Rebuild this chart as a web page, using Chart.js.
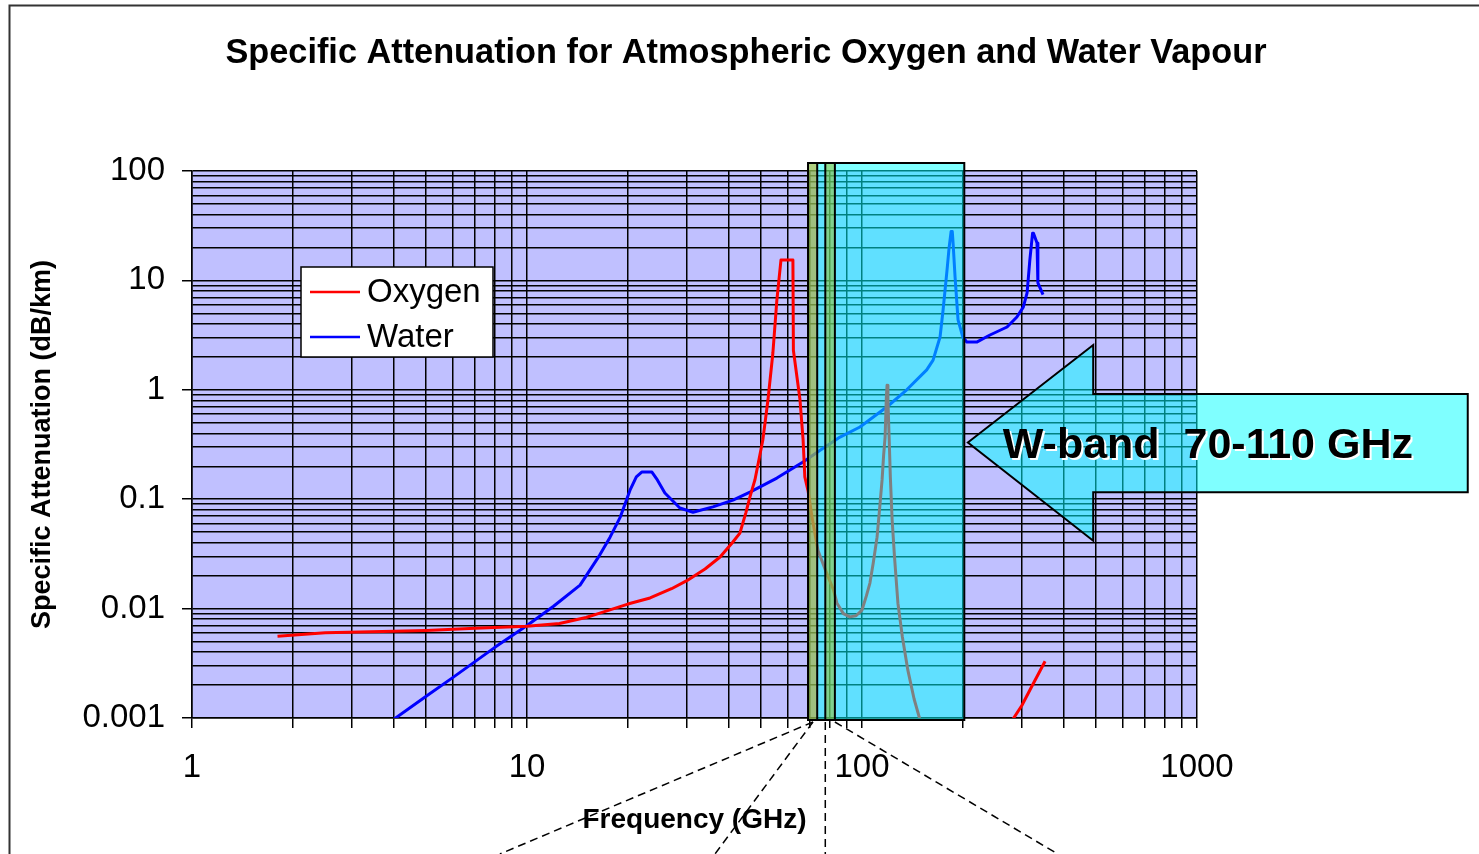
<!DOCTYPE html>
<html lang="en">
<head>
  <meta charset="utf-8" />
  <title>Specific Attenuation for Atmospheric Oxygen and Water Vapour</title>
  <script src="https://cdn.jsdelivr.net/npm/chart.js"></script>
  <style>
    * { box-sizing: border-box; margin: 0; padding: 0; }
    body { background: #fff; width: 1479px; height: 854px; overflow: hidden; }
    #wrap { position: relative; width: 1479px; height: 854px; }
  </style>
</head>
<body>
  <div id="wrap"><canvas id="chart" width="1479" height="854"></canvas></div>

  <script>
    // values (GHz, dB/km)
    const oxygenFreq = [1.8, 2.5, 4, 5, 7, 10, 12.5, 15, 16.5, 20, 23.3, 27, 30, 34, 37.7, 41, 43.2, 45, 46.3, 47.9,
      50.6, 52.4, 54.2, 55.7, 57.3, 62.2, 62.4, 65.3, 66.7, 67.5, 69, 70.9, 73.9, 78, 82.2, 84.2, 88, 92, 96, 100,
      103, 105.6, 108, 110.9, 113, 114.8, 116, 117.2, 118.2, 118.8, 119.5, 120.5, 121.5, 123, 125, 128, 132, 137,
      143, 149, 160, 200, 250, 280, 300, 320, 352];
    const oxygenAtt = [0.0056, 0.0060, 0.0062, 0.0063, 0.0066, 0.0069, 0.0073, 0.0083, 0.0091, 0.011, 0.0125, 0.0152,
      0.018, 0.023, 0.0296, 0.04, 0.049, 0.075, 0.105, 0.15,
      0.35, 0.81, 2.17, 6.6, 15.4, 15.4, 2.3, 0.81, 0.35, 0.16, 0.12, 0.069, 0.034, 0.022, 0.0148, 0.0112, 0.009,
      0.0084, 0.0086, 0.0097,
      0.013, 0.0171, 0.026, 0.045, 0.085, 0.15, 0.25, 0.37, 0.85, 1.1, 0.8, 0.37, 0.16, 0.065, 0.03, 0.0112, 0.0055,
      0.00275, 0.0015, 0.00096, 0.0005, 0.0003, 0.0005, 0.00094, 0.0013, 0.0019, 0.0033];

    const waterFreq = [3.9, 5, 6, 8, 10, 12, 14.4, 16.5, 17.7, 19, 20.3, 21.2, 22, 23.6, 24.5, 25.8, 28.6, 31.3, 35.9,
      41.2, 46.3, 55.7, 66.7, 75, 86, 98.6, 118.8, 136, 156, 163, 171, 174.6, 179.4, 182, 184.5, 186, 187, 189.6, 193.5,
      200, 205.6, 220, 241, 271, 290, 303, 311, 317, 323, 325, 333, 335, 347];
    const waterAtt = [0.00092, 0.00158, 0.00234, 0.0044, 0.0070, 0.0105, 0.0164, 0.031, 0.045, 0.069, 0.121, 0.16,
      0.177, 0.177, 0.15, 0.114, 0.083, 0.076, 0.085,
      0.098, 0.116, 0.156, 0.219, 0.28, 0.37, 0.457, 0.70, 1.0, 1.52, 1.87, 3.04, 5.36, 12.4, 20, 28, 28, 22, 10.7, 4.35,
      3.04, 2.73, 2.73, 3.17, 3.75, 4.63, 5.7, 7.7, 15.4, 27, 27, 22, 9.5, 7.4];

    const xTickLabels = ['1', '10', '100', '1000'];
    const yTickLabels = ['0.001', '0.01', '0.1', '1', '10', '100'];
    const seriesNames = ['Oxygen', 'Water'];

    // band marking (GHz) and the callout arrow (GHz / dB/km)
    const bandFrom = 69, bandTo = 202;
    const strips = [[69, 73.5, 'rgba(224,160,0,0.5)'], [77.7, 83, 'rgba(160,192,32,0.5)']];
    const dividers = [73.5, 77.7, 83];
    const arrowX = [207, 490, 6430];                 // tip, neck, tail
    const arrowY = [0.33, 2.57, 0.916, 0.116, 0.0417]; // tip, head top, body top, body bottom, head bottom
    const calloutFrom = [71.4, 71.4, 77.7, 83];
    const calloutTo = [8.3, 36.4, 77.7, 384];

    const FONT = "Arial, 'Liberation Sans', sans-serif";

    function decades(lo, hi) {
      const out = [];
      for (let e = lo; e < hi; e++) {
        for (let m = 1; m < 10; m++) out.push(+(m * Math.pow(10, e)).toPrecision(6));
      }
      out.push(Math.pow(10, hi));
      return out;
    }
    const xGrid = decades(0, 3);
    const yGrid = decades(-3, 2);

    function decadeIndex(v) {
      const l = Math.log10(v);
      const r = Math.round(l);
      return Math.abs(l - r) < 1e-6 ? r : null;
    }

    const decor = {
      id: 'decor',
      beforeDraw(chart) {
        const { ctx, chartArea: a } = chart;
        ctx.save();
        ctx.fillStyle = '#c0c0ff';
        ctx.fillRect(a.left, a.top, a.right - a.left, a.bottom - a.top);
        ctx.restore();
      },
      afterDatasetsDraw(chart) {
        const { ctx, chartArea: a } = chart;
        const xs = chart.scales.x, ys = chart.scales.y;
        const px = v => xs.getPixelForValue(v);
        const py = v => ys.getPixelForValue(v);
        const top = a.top - 8, bot = a.bottom + 2;

        ctx.save();
        // band overlay
        ctx.fillStyle = 'rgba(0,255,255,0.5)';
        ctx.fillRect(px(bandFrom), top, px(bandTo) - px(bandFrom), bot - top);
        strips.forEach(([f, t, c]) => {
          ctx.fillStyle = c;
          ctx.fillRect(px(f), top, px(t) - px(f), bot - top);
        });
        ctx.strokeStyle = '#000';
        ctx.lineWidth = 2;
        dividers.forEach(f => {
          ctx.beginPath();
          ctx.moveTo(px(f), top);
          ctx.lineTo(px(f), bot);
          ctx.stroke();
        });
        ctx.strokeRect(px(bandFrom), top, px(bandTo) - px(bandFrom), bot - top);

        // callout lines
        ctx.setLineDash([8, 5]);
        ctx.lineWidth = 1.5;
        calloutFrom.forEach((f, i) => {
          ctx.beginPath();
          ctx.moveTo(px(f), a.bottom + 4);
          ctx.lineTo(px(calloutTo[i]), chart.height);
          ctx.stroke();
        });
        ctx.setLineDash([]);

        // arrow
        const [tx, nx, ex] = arrowX.map(px);
        const [ty, hTop, bTop, bBot, hBot] = arrowY.map(py);
        ctx.beginPath();
        ctx.moveTo(tx, ty);
        ctx.lineTo(nx, hTop);
        ctx.lineTo(nx, bTop);
        ctx.lineTo(ex, bTop);
        ctx.lineTo(ex, bBot);
        ctx.lineTo(nx, bBot);
        ctx.lineTo(nx, hBot);
        ctx.closePath();
        ctx.fillStyle = 'rgba(0,255,255,0.5)';
        ctx.fill();
        ctx.lineWidth = 2;
        ctx.stroke();

        ctx.font = 'bold 43px ' + FONT;
        ctx.textAlign = 'left';
        ctx.textBaseline = 'middle';
        ctx.fillStyle = '#fff';
        ctx.fillText('W-band  70-110 GHz', tx + 37, ty + 6);
        ctx.fillStyle = '#000';
        ctx.fillText('W-band  70-110 GHz', tx + 35, ty + 4);

        // legend
        const lx = a.left + 109, ly = a.top + 96;
        ctx.fillStyle = '#fff';
        ctx.fillRect(lx, ly, 192, 90);
        ctx.lineWidth = 1.5;
        ctx.strokeStyle = '#000';
        ctx.strokeRect(lx, ly, 192, 90);
        ctx.font = '33px ' + FONT;
        chart.data.datasets.forEach((ds, i) => {
          const y = ly + 25 + i * 45;
          ctx.strokeStyle = ds.borderColor;
          ctx.lineWidth = 2.5;
          ctx.beginPath();
          ctx.moveTo(lx + 9, y);
          ctx.lineTo(lx + 59, y);
          ctx.stroke();
          ctx.fillStyle = '#000';
          ctx.fillText(ds.label, lx + 66, y + 1);
        });
        ctx.restore();
      },
      afterDraw(chart) {
        const { ctx } = chart;
        ctx.save();
        ctx.font = 'bold 34.3px ' + FONT;
        ctx.textAlign = 'center';
        ctx.textBaseline = 'middle';
        ctx.fillStyle = '#000';
        ctx.fillText('Specific Attenuation for Atmospheric Oxygen and Water Vapour', 746, 54);
        ctx.strokeStyle = '#333';
        ctx.lineWidth = 2;
        ctx.strokeRect(9.5, 5.5, chart.width, chart.height - 3);
        ctx.restore();
      }
    };

    Chart.defaults.font.family = FONT;
    Chart.defaults.color = '#000';

    new Chart('chart', {
      type: 'line',
      data: {
        datasets: [
          {
            label: seriesNames[0],
            data: oxygenFreq.map((f, i) => ({ x: f, y: oxygenAtt[i] })),
            borderColor: '#ff0000',
            borderWidth: 3,
            borderJoinStyle: 'round',
            pointRadius: 0,
            tension: 0,
            fill: false
          },
          {
            label: seriesNames[1],
            data: waterFreq.map((f, i) => ({ x: f, y: waterAtt[i] })),
            borderColor: '#0000ff',
            borderWidth: 3,
            borderJoinStyle: 'round',
            pointRadius: 0,
            tension: 0,
            fill: false
          }
        ]
      },
      options: {
        responsive: false,
        animation: false,
        devicePixelRatio: 1,
        layout: { padding: { top: 171, right: 282, bottom: 0, left: 0 } },
        plugins: {
          legend: { display: false },
          title: { display: false },
          tooltip: { enabled: false }
        },
        scales: {
          x: {
            type: 'logarithmic',
            min: 1,
            max: 1000,
            afterFit: s => { s.height = 136; },
            afterBuildTicks: s => { s.ticks = xGrid.map(v => ({ value: v })); },
            grid: { color: '#000', lineWidth: 1.5, tickLength: 10, tickColor: '#000' },
            border: { color: '#000', width: 1.5 },
            ticks: {
              autoSkip: false,
              maxRotation: 0,
              padding: 20,
              font: { size: 33 },
              callback: v => {
                const d = decadeIndex(v);
                return d === null ? '' : xTickLabels[d];
              }
            },
            title: {
              display: true,
              text: 'Frequency (GHz)',
              font: { size: 28, weight: 'bold' },
              padding: { top: 0, bottom: 17 }
            }
          },
          y: {
            type: 'logarithmic',
            min: 0.001,
            max: 100,
            afterFit: s => { s.width = 192; },
            afterBuildTicks: s => { s.ticks = yGrid.map(v => ({ value: v })); },
            grid: {
              color: '#000',
              lineWidth: 1.5,
              tickLength: 10,
              tickColor: c => (c.tick && decadeIndex(c.tick.value) !== null) ? '#000' : 'rgba(0,0,0,0)'
            },
            border: { color: '#000', width: 1.5 },
            ticks: {
              autoSkip: false,
              padding: 17,
              font: { size: 33 },
              callback: v => {
                const d = decadeIndex(v);
                return d === null ? '' : yTickLabels[d + 3];
              }
            },
            title: {
              display: true,
              text: 'Specific Attenuation (dB/km)',
              font: { size: 27, weight: 'bold' },
              padding: { top: 26, bottom: 0 }
            }
          }
        }
      },
      plugins: [decor]
    });
  </script>
</body>
</html>
